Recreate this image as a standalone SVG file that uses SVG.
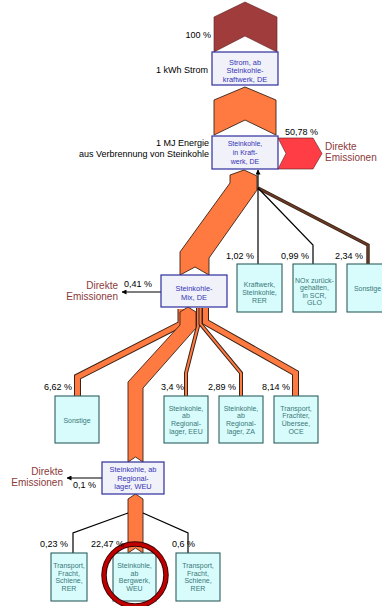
<svg xmlns="http://www.w3.org/2000/svg" width="382" height="606" viewBox="0 0 382 606">
<defs>
<style>
.lbl{font-family:"Liberation Sans",Arial,sans-serif;font-size:9px;fill:#000}
.em{font-family:"Liberation Sans",Arial,sans-serif;font-size:10px;fill:#8b3a3a}
.bn rect{fill:#f1f1fa;stroke:#2e2e9c;stroke-width:1.2}
.bn text{font-family:"Liberation Sans",Arial,sans-serif;font-size:7.4px;fill:#3434b4;text-anchor:middle}
.tn rect{fill:#d8fcfc;stroke:#2d5e5e;stroke-width:1.1}
.tn text{font-family:"Liberation Sans",Arial,sans-serif;font-size:7px;fill:#3a7878;text-anchor:middle}
.flow{fill:#ff7a40;stroke:#3a2418;stroke-width:0.9;stroke-linejoin:miter}
.fo{fill:none;stroke:#3a2418;stroke-linejoin:miter}
.fi{fill:none;stroke:#ff7a40;stroke-linejoin:miter}
.ln{fill:none;stroke:#000;stroke-width:1.2}
</style>
<marker id="ah" viewBox="0 0 10 10" refX="9" refY="5" markerWidth="5" markerHeight="5" orient="auto-start-reverse" markerUnits="userSpaceOnUse">
<path d="M0,0 L10,5 L0,10 z" fill="#000"/>
</marker>
</defs>
<g id="connectors">
<polygon points="245,2 277,17 277,52 245,36 214,52 214,17" fill="#a03c3c" stroke="#5a1e1e" stroke-width="0.6"/>
<polygon class="flow" points="245,87 276,100 276,135 245,120 214,135 214,100"/>
<polygon points="278,138 313,138 322,153.5 313,169 278,169 286,153.5" fill="#ff3d45" stroke="#5a1e1e" stroke-width="0.6"/>
<polygon class="flow" points="244,170 257,176 257,190 209,258 209,275 195,267 180,275 180,252 230,183 230,175"/>
<path class="fo" stroke-width="3.4" d="M258,188 L368,245 L368,264"/>
<path fill="none" stroke="#6a3a24" stroke-width="1.8" d="M258,188 L368,245 L368,264"/>
<path class="ln" d="M258,188 L313,245 L313,264"/>
<path class="ln" d="M258,264 L258,170" marker-end="url(#ah)"/>
<path class="fo" stroke-width="7" d="M77.5,396 L77.5,377 L181,324 L181,309"/>
<path class="fi" stroke-width="5" d="M77.5,396 L77.5,377 L181,324 L181,309"/>
<path class="fo" stroke-width="4" d="M186,396 L186,373 L198,326 L198,308"/>
<path class="fi" stroke-width="2" d="M186,396 L186,373 L198,326 L198,308"/>
<path class="fo" stroke-width="4" d="M241,396 L241,373 L200.5,324 L200.5,308"/>
<path class="fi" stroke-width="2" d="M241,396 L241,373 L200.5,324 L200.5,308"/>
<path class="fo" stroke-width="7" d="M295.5,396 L295.5,373 L205.5,322 L205.5,308"/>
<path class="fi" stroke-width="5" d="M295.5,396 L295.5,373 L205.5,322 L205.5,308"/>
<polygon class="flow" points="188,307 196,312 196,328 143,388 143,462 135.5,457 128,462 128,382 180,325 180,312"/>
<path class="ln" d="M161,292 L122,292" marker-end="url(#ah)"/>
<path class="ln" d="M102,478 L67,478" marker-end="url(#ah)"/>
<polygon class="flow" points="135.5,494 143,499 143,553 135.5,548 128,553 128,499"/>
<path class="ln" d="M128,513 L73,533 L73,553"/>
<path class="ln" d="M143,513 L188,533 L188,553"/>
</g>
<g id="n_strom" class="bn">
<rect x="212" y="52" width="66" height="33"/>
<text x="245" y="64.5">Strom, ab</text>
<text x="245" y="73">Steinkohle-</text>
<text x="245" y="81.5">kraftwerk, DE</text>
</g>
<g id="n_kraftwerk" class="bn">
<rect x="212" y="136" width="66" height="33"/>
<text x="245" y="145.5" style="font-size:7px">Steinkohle,</text>
<text x="245" y="154.5" style="font-size:7px">in Kraft-</text>
<text x="245" y="163.5" style="font-size:7px">werk, DE</text>
</g>
<g id="n_mix" class="bn">
<rect x="161" y="275" width="66" height="32"/>
<text x="194" y="290.5">Steinkohle-</text>
<text x="194" y="299.5">Mix, DE</text>
</g>
<g id="n_weu" class="bn">
<rect x="102" y="462" width="62" height="32"/>
<text x="133" y="471.5">Steinkohle, ab</text>
<text x="133" y="480.5">Regional-</text>
<text x="133" y="489">lager, WEU</text>
</g>
<g id="n_kw_rer" class="tn">
<rect x="237" y="264" width="45" height="48"/>
<text x="259.5" y="286.5">Kraftwerk,</text>
<text x="259.5" y="294.5">Steinkohle,</text>
<text x="259.5" y="302.5">RER</text>
</g>
<g id="n_nox" class="tn">
<rect x="293" y="264" width="43" height="48"/>
<text x="314.5" y="282.5">NOx zurück-</text>
<text x="314.5" y="290">gehalten,</text>
<text x="314.5" y="297.5">in SCR,</text>
<text x="314.5" y="305">GLO</text>
</g>
<g id="n_sonstige1" class="tn">
<rect x="347" y="264" width="46" height="48"/>
<text x="367.5" y="290.5">Sonstige</text>
</g>
<g id="n_sonstige2" class="tn">
<rect x="55" y="396" width="44" height="47"/>
<text x="77" y="422.5">Sonstige</text>
</g>
<g id="n_eeu" class="tn">
<rect x="164" y="396" width="44" height="47"/>
<text x="186" y="410.5">Steinkohle,</text>
<text x="186" y="418">ab</text>
<text x="186" y="425.5">Regional-</text>
<text x="186" y="433.5">lager, EEU</text>
</g>
<g id="n_za" class="tn">
<rect x="219" y="396" width="44" height="47"/>
<text x="241" y="410.5">Steinkohle,</text>
<text x="241" y="418">ab</text>
<text x="241" y="425.5">Regional-</text>
<text x="241" y="433.5">lager, ZA</text>
</g>
<g id="n_oce" class="tn">
<rect x="274" y="396" width="44" height="47"/>
<text x="296" y="410.5">Transport,</text>
<text x="296" y="418">Frachter,</text>
<text x="296" y="425.5">Übersee,</text>
<text x="296" y="433.5">OCE</text>
</g>
<g id="n_rail1" class="tn">
<rect x="51" y="553" width="36" height="48"/>
<text x="69" y="567.5">Transport,</text>
<text x="69" y="575.5">Fracht,</text>
<text x="69" y="583">Schiene,</text>
<text x="69" y="590.5">RER</text>
</g>
<g id="n_bergwerk" class="tn">
<rect x="113" y="553" width="43" height="48"/>
<text x="134.5" y="567.5">Steinkohle,</text>
<text x="134.5" y="575.5">ab</text>
<text x="134.5" y="583">Bergwerk,</text>
<text x="134.5" y="590.5">WEU</text>
</g>
<g id="n_rail2" class="tn">
<rect x="176" y="553" width="44" height="48"/>
<text x="198" y="567.5">Transport,</text>
<text x="198" y="575.5">Fracht,</text>
<text x="198" y="583">Schiene,</text>
<text x="198" y="590.5">RER</text>
</g>
<g id="highlight">
<circle cx="135" cy="575" r="31" fill="none" stroke="#3a0000" stroke-width="5.5"/>
<circle cx="135" cy="575" r="31" fill="none" stroke="#c00000" stroke-width="3.5"/>
</g>
<g id="labels">
<text class="lbl" x="211" y="38" text-anchor="end">100 %</text>
<text class="lbl" x="208" y="73" text-anchor="end">1 kWh Strom</text>
<text class="lbl" x="209" y="146" text-anchor="end">1 MJ Energie</text>
<text class="lbl" x="209" y="157" text-anchor="end">aus Verbrennung von Steinkohle</text>
<text class="lbl" x="285" y="135">50,78 %</text>
<text class="em" x="325" y="149.5">Direkte</text>
<text class="em" x="325" y="160.5">Emissionen</text>
<text class="lbl" x="254" y="259" text-anchor="end">1,02 %</text>
<text class="lbl" x="309" y="259" text-anchor="end">0,99 %</text>
<text class="lbl" x="363" y="259" text-anchor="end">2,34 %</text>
<text class="lbl" x="124" y="286.5">0,41 %</text>
<text class="em" x="118" y="288.5" text-anchor="end">Direkte</text>
<text class="em" x="118" y="299.5" text-anchor="end">Emissionen</text>
<text class="lbl" x="72" y="390" text-anchor="end">6,62 %</text>
<text class="lbl" x="184" y="390" text-anchor="end">3,4 %</text>
<text class="lbl" x="236" y="390" text-anchor="end">2,89 %</text>
<text class="lbl" x="290" y="390" text-anchor="end">8,14 %</text>
<text class="em" x="63" y="474.5" text-anchor="end">Direkte</text>
<text class="em" x="63" y="485.5" text-anchor="end">Emissionen</text>
<text class="lbl" x="73" y="488">0,1 %</text>
<text class="lbl" x="68" y="547" text-anchor="end">0,23 %</text>
<text class="lbl" x="124" y="547" text-anchor="end">22,47 %</text>
<text class="lbl" x="195" y="547" text-anchor="end">0,6 %</text>
</g>
</svg>
